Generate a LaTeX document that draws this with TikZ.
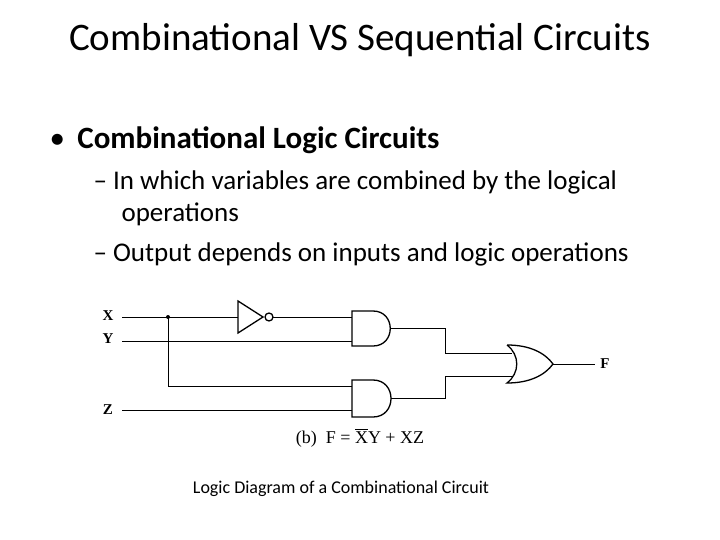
\documentclass[tikz,border=0pt]{standalone}
\usepackage{fontspec}
\setmainfont{Carlito}
\newfontfamily\tms{Liberation Serif}
\newcommand\barX{{\setbox0\hbox{X}\rlap{\raisebox{\dimexpr\ht0+1.5pt\relax}{\rule{\wd0}{0.7pt}}}X}}
\begin{document}
\begin{tikzpicture}[x=1pt,y=-1pt,wire/.style={line width=0.8pt},gate/.style={line width=1.3pt},
 lab/.style={font=\tms\fontsize{15}{15}\selectfont\bfseries,inner sep=0}]
\useasboundingbox (0,0) rectangle (720,540);
\node (title) at (360,40) {\fontsize{39}{44}\selectfont Combinational VS Sequential Circuits};
\node[anchor=west] (b1) at (46,140) {\fontsize{31}{36}\selectfont •\hspace{0.4em}\textbf{Combinational Logic Circuits}};
\node[anchor=west] (s1) at (90,182) {\fontsize{27}{32}\selectfont – In which variables are combined by the logical};
\node[anchor=west] (s2) at (118,214) {\fontsize{27}{32}\selectfont operations};
\node[anchor=west] (s3) at (90,254) {\fontsize{27}{32}\selectfont – Output depends on inputs and logic operations};
% labels
\node[lab] (X) at (108,316) {X};
\node[lab] (Y) at (108,339) {Y};
\node[lab] (Z) at (108,410) {Z};
\node[lab] (F) at (605,364) {F};
% inverter
\draw[gate] (238,301) -- (263,317) -- (238,333) -- cycle;
\draw[gate] (269,317) circle (4);
% AND1
\draw[gate] (352,311) -- (373,311) .. controls (396,311) and (396,346) .. (373,346) -- (352,346) -- cycle;
% AND2
\draw[gate] (352,380) -- (373,380) .. controls (397,380) and (397,417) .. (373,417) -- (352,417) -- cycle;
% OR
\draw[gate] (507,345) .. controls (520,355) and (520,373) .. (507,383)
  .. controls (530,383) and (545,375) .. (553,364)
  .. controls (545,353) and (530,345) .. (507,345);
% wires
\coordinate (dot) at (168,317);
\draw[wire] (122,317) -- (238,317);
\draw[wire] (273,317) -- (352,317);
\draw[wire] (122,341) -- (352,341);
\draw[wire] (dot) -- (168,386) -- (352,386);
\draw[wire] (122,410) -- (352,410);
\fill (dot) circle (2);
\draw[wire] (390.5,328) -- (445,328) -- (445,353) -- (512,353);
\draw[wire] (391,398) -- (445,398) -- (445,376) -- (512,376);
\draw[wire] (553,364) -- (595,364);
\node (cap) at (360,438) {\tms\fontsize{18}{18}\selectfont (b)\ \ F = \barX Y + XZ};
\node (cap2) at (341,489) {\fontsize{18}{20}\selectfont Logic Diagram of a Combinational Circuit};
\end{tikzpicture}
\end{document}
